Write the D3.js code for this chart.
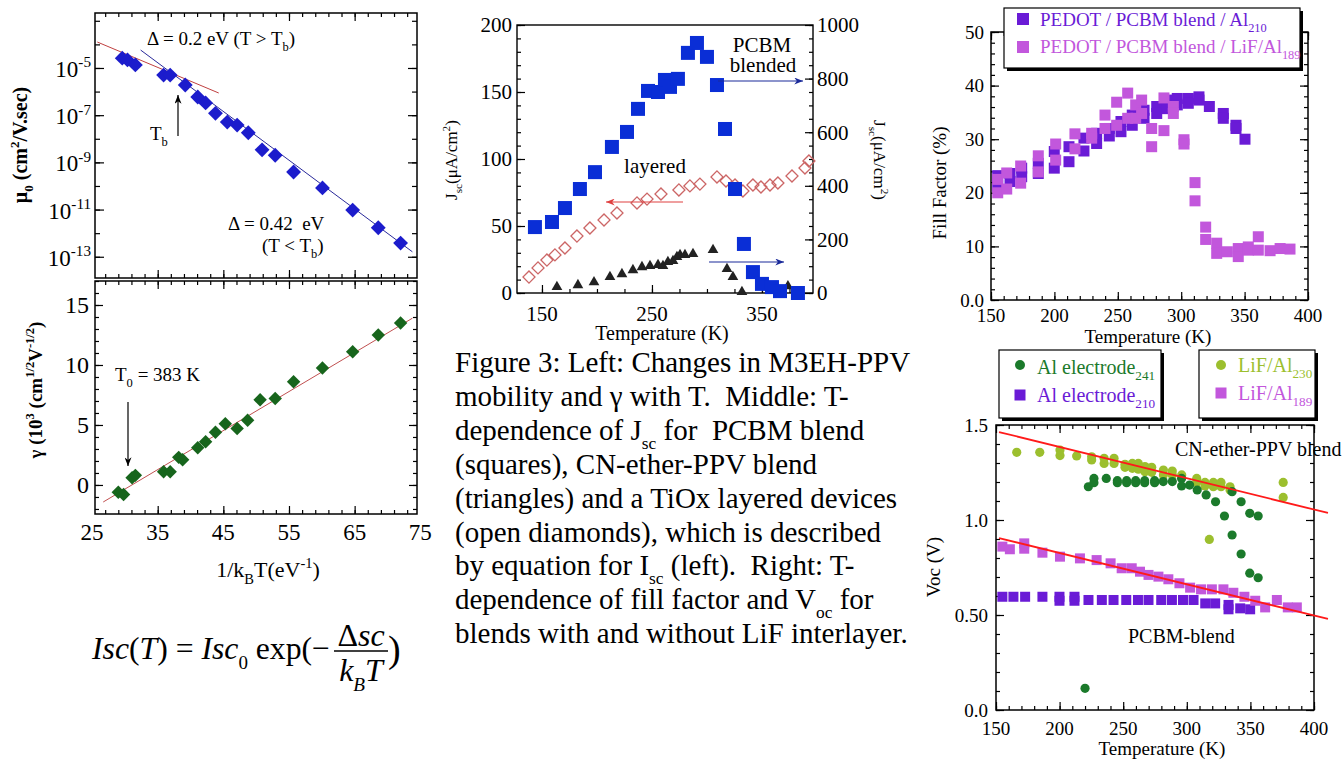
<!DOCTYPE html>
<html><head><meta charset="utf-8">
<script src="https://cdn.jsdelivr.net/npm/d3@7"></script>
<style>
body{margin:0;background:#fff}
svg{display:block}
text{font-family:"Liberation Serif","Times New Roman",serif;fill:#000}
</style>
</head><body>
<svg id="fig" width="1344" height="759"></svg>
<script>
// ---------------- data ----------------
// Left: zero-field mobility vs 1/kT (M3EH-PPV)
const muX = [29.6,30.4,31.6,35.9,36.9,39.2,41.1,42.3,43.8,45.6,47.1,48.8,50.9,52.9,55.7,60.1,64.7,68.6,72.0];
const mu  = [2.6e-5,2.2e-5,1.35e-5,5.0e-6,5.0e-6,1.9e-6,5.9e-7,3.3e-7,1.2e-7,5.1e-8,3.8e-8,1.8e-8,3.4e-9,2.0e-9,3.9e-10,8.3e-11,9.5e-12,1.7e-12,3.8e-13];
const muFitHighX = [25.8, 44.3], muFitHigh = [1.26e-4, 8.7e-7];   // Δ = 0.2 eV
const muFitLowX  = [32.4, 73.8], muFitLow  = [5.75e-5, 1.62e-13]; // Δ = 0.42 eV
// Left: field-dependence coefficient γ vs 1/kT
const gammaX = [29.0,29.8,31.1,31.6,35.9,36.9,38.2,38.8,41.1,42.3,43.8,45.3,47.1,48.7,50.6,52.9,55.7,60.1,64.7,68.6,72.0];
const gamma  = [-0.6,-0.8,0.6,0.8,1.1,1.1,2.3,2.1,3.1,3.6,4.4,5.1,4.7,5.4,7.1,7.2,8.6,9.75,11.1,12.5,13.5];
const gammaFitX = [26.7, 73.8], gammaFit = [-1.42, 13.9];
const invKTTicks = [25,35,45,55,65,75];

// Middle: Jsc vs temperature
const pcbmT = [143.6,159.1,170.9,184.5,198.2,213.6,227.3,237.3,246.4,255.5,261.8,266.4,273.6,282.7,290.9,300,309.1,316.4,325.5,333.6,341.8,350,359.1,366.4,382.7];
const pcbmJ = [246,265,317,388,451,545,601,687,754,750,795,769,799,896,933,881,776,612,388,183,78,34,22,7,0];
const layeredT = [138.2,146.4,154.5,161.8,170.9,181.8,193.6,206.4,218.2,236.4,245.5,258.2,274.5,284.5,293.6,309.1,317.3,325.5,332.7,341.8,349.1,357.3,364.5,377.3,389.1,392.7];
const layeredJ = [11.9,18.7,24.6,28.4,33.6,42.5,48.5,54.5,59.7,67.2,70.1,73.9,76.9,79.9,81.3,86.6,83.6,80.6,76.1,80.6,79.1,80.6,82.1,87.3,93.3,98.5];
const cnT = [163.6,182.7,197.3,211.8,222.7,232.7,240.9,248.2,255.5,260,264.5,269.1,272.7,275.5,280,287.3,305.5,318.2,323.6,331.8,373.6];
const cnJ = [19,26,37,56,67,82,93,97,101,97,112,116,131,138,138,142,157,86,56,0,22];

// Right top: fill factor
const ffAlT = [155.3,155.3,165,165,174.2,174.2,187.3,187.3,199.9,199.9,211.5,211.5,223.3,223.3,233.3,233.3,243.3,243.3,252.5,252.5,261.4,261.4,270.7,270.7,280.7,280.7,288.6,288.6,296.9,296.9,305.6,305.6,314,314,322.2,333.2,333.2,343.2,343.2,350.3];
const ffAl  = [23.2,21.2,23.6,22.1,24.6,23.0,25.5,23.6,27.7,24.6,28.6,25.8,30.2,27.8,31.1,29.2,32.0,30.6,33.3,31.4,34.5,32.6,35.4,33.9,36.1,34.8,37.3,35.7,37.6,36.4,37.6,36.7,37.9,37.3,36.1,34.8,33.9,32.6,32.0,30.0];
const ffLiFT = [155.3,155.3,162.4,162.4,173.4,173.4,187.3,187.3,201,201,216.2,216.2,229.4,229.4,239.9,239.9,249.1,249.1,257.8,257.8,264.1,264.1,268.8,268.8,276.7,276.7,286.4,286.4,293.8,293.8,302.2,302.2,310.9,310.9,319.3,319.3,328,328,336.4,345,345,352.9,352.9,360.8,360.8,370.1,378,385.8];
const ffLiF  = [22.5,20.0,23.7,20.7,25.0,21.8,26.9,23.9,29.1,26.1,31.0,28.2,31.1,30.2,34.5,32.0,36.9,32.6,38.6,33.9,36.4,33.9,37.3,34.8,32.0,28.6,37.7,31.6,36.1,34.8,29.9,29.1,21.9,18.5,13.6,11.3,10.6,8.7,9.0,9.6,8.1,9.9,9.3,11.8,9.3,9.2,9.6,9.5];

// Right bottom: open-circuit voltage
const vocLiF230T = [166.3,184.4,200.3,200.3,213.4,225.2,225.2,235,235,242.8,242.8,251.4,251.4,257.2,257.2,261.9,261.9,267.1,267.1,272.4,272.4,281.6,281.6,288.6,288.6,296,307.8,307.8,314.3,314.3,320.9,320.9,326.9,326.9,334,334,317.7,375.8,375.8];
const vocLiF230  = [1.356,1.356,1.368,1.339,1.337,1.333,1.316,1.325,1.298,1.325,1.298,1.293,1.277,1.298,1.272,1.298,1.267,1.281,1.254,1.277,1.251,1.263,1.237,1.258,1.237,1.237,1.219,1.198,1.198,1.179,1.198,1.175,1.198,1.175,1.175,1.158,0.898,1.198,1.119];
const vocAl241T = [222.6,227,227,236.7,245.4,245.4,252.7,252.7,259.8,259.8,266.9,266.9,274.7,274.7,281.5,288.6,295.9,295.9,302.2,308.2,315.2,322.6,329.6,335.6,335.6,342.7,342.7,349.5,349.5,356.1,356.1,220];
const vocAl241  = [1.175,1.219,1.196,1.219,1.207,1.196,1.207,1.196,1.207,1.196,1.207,1.196,1.207,1.196,1.202,1.202,1.219,1.179,1.184,1.158,1.132,1.096,1.021,1.149,0.921,1.096,0.821,1.035,0.72,1.021,0.696,0.114];
const vocAl210T = [155,163.7,172.9,186.5,199.9,199.9,211.7,211.7,222.7,233.2,242.4,252.4,261.6,269.9,279.9,288.3,297,305.3,314.5,322.3,332.8,332.8,342,349.8];
const vocAl210  = [0.596,0.596,0.596,0.596,0.596,0.575,0.596,0.575,0.579,0.579,0.579,0.579,0.579,0.579,0.579,0.579,0.579,0.579,0.561,0.561,0.553,0.53,0.535,0.53];
const vocLiF189T = [155,160.9,172.2,172.2,186.5,200.3,216,229.1,240.1,248.8,256.7,263.2,269.9,277.7,285.5,294.2,302.6,311.2,319.7,328.8,336.6,345.3,353.8,361.6,370.8,379.4,386.5];
const vocLiF189  = [0.86,0.846,0.849,0.877,0.828,0.807,0.798,0.789,0.772,0.746,0.746,0.728,0.711,0.702,0.688,0.667,0.644,0.635,0.635,0.635,0.617,0.596,0.575,0.54,0.579,0.54,0.54];
const vocFitT = [152.4, 411];
const vocFitCN = [1.463, 1.037];
const vocFitPCBM = [0.905, 0.479];

const captionLines = [
  [["Figure 3: Left: Changes in M3EH-PPV"]],
  [["mobility and γ with T.  Middle: T-"]],
  [["dependence of J"],["sc","sub"],[" for  PCBM blend"]],
  [["(squares), CN-ether-PPV blend"]],
  [["(triangles) and a TiOx layered devices"]],
  [["(open diamonds), which is described"]],
  [["by equation for I"],["sc","sub"],[" (left).  Right: T-"]],
  [["dependence of fill factor and V"],["oc","sub"],[" for"]],
  [["blends with and without LiF interlayer."]]
];

// ---------------- colours ----------------
const C = {
  blueDiamond: "#1c1ccc", greenDiamond: "#17651c",
  pcbm: "#0a2ed6", layered: "#cc6666", cn: "#222222",
  purple: "#6a1bd6", violet: "#c257dc",
  darkGreen: "#1b7a2b", lightGreen: "#9cbf2e", red: "#ff1a1a"
};

// ---------------- helpers ----------------
const svg = d3.select("#fig");
const defs = svg.append("defs");
function arrowMarker(id, color) {
  defs.append("marker").attr("id", id).attr("viewBox", "0 0 10 8")
    .attr("refX", 10).attr("refY", 4).attr("markerWidth", 9).attr("markerHeight", 7)
    .attr("markerUnits", "userSpaceOnUse").attr("orient", "auto")
    .append("path").attr("d", "M0,0 L10,4 L0,8 L3,4 z").attr("fill", color);
}
arrowMarker("arrBlue", "#1a2a9a");
arrowMarker("arrRed", "#e04040");
arrowMarker("arrBlack", "#000");

// text with sub/superscript runs; a run is [string, "sub"|"sup"|undefined, italic?]
function rich(sel, parts, fs, small) {
  let cur = 0;
  const k = small || 0.66;
  parts.forEach(([s, kind, ital]) => {
    const target = kind === "sub" ? fs * 0.3 : kind === "sup" ? -fs * 0.42 : 0;
    const t = sel.append("tspan").attr("dy", target - cur)
      .attr("font-size", kind ? fs * k : fs).text(s);
    if (ital) t.attr("font-style", "italic");
    cur = target;
  });
  return sel;
}

function frame(g, x, y, sw) {
  const [x0, x1] = x.range(), [y0, y1] = y.range();
  g.append("rect").attr("x", Math.min(x0, x1)).attr("y", Math.min(y0, y1))
    .attr("width", Math.abs(x1 - x0)).attr("height", Math.abs(y1 - y0))
    .attr("fill", "none").attr("stroke", "#000").attr("stroke-width", sw || 1.3);
}

// inward tick marks drawn with d3 axes (labels handled separately)
function tickRow(g, axisFn, scale, values, size, tx, ty) {
  const s = g.append("g").attr("transform", `translate(${tx},${ty})`)
    .call(axisFn(scale).tickValues(values).tickSize(-size).tickFormat(""));
  s.select(".domain").remove();
  s.selectAll("line").attr("stroke", "#000").attr("stroke-width", 1.2);
}
function inDomain(vals, sc) {
  const [a, b] = d3.extent(sc.domain());
  return vals.filter(v => v >= a - 1e-9 && v <= b + 1e-9);
}
function range(a, b, s) { return d3.range(a, b + s / 2, s); }

function diamond(g, cx, cy, side, fill, stroke) {
  g.append("rect").attr("x", -side / 2).attr("y", -side / 2)
    .attr("width", side).attr("height", side)
    .attr("transform", `translate(${cx},${cy}) rotate(45)`)
    .attr("fill", fill).attr("stroke", stroke || "none").attr("stroke-width", 1.3);
}
function square(g, cx, cy, side, fill) {
  g.append("rect").attr("x", cx - side / 2).attr("y", cy - side / 2)
    .attr("width", side).attr("height", side).attr("fill", fill);
}

// ================= LEFT TOP: mobility =================
const xA = d3.scaleLinear().domain([25.45, 74.5]).range([95, 417]);
const yA = d3.scaleLog().domain([Math.pow(10, -13.9), Math.pow(10, -2.67)]).range([278, 13]);
const gA = svg.append("g");
{
  const [xl, xr] = xA.range(), [yb, yt] = yA.range();
  const maj = inDomain(range(25, 75, 10), xA), min = inDomain(range(25, 75, 2), xA);
  tickRow(gA, d3.axisBottom, xA, min, 4, 0, yb);
  tickRow(gA, d3.axisBottom, xA, maj, 8, 0, yb);
  tickRow(gA, d3.axisTop, xA, min, 4, 0, yt);
  tickRow(gA, d3.axisTop, xA, maj, 8, 0, yt);
  const decades = d3.range(-13, -2).map(e => Math.pow(10, e));
  const odd = d3.range(-13, -4, 2).map(e => Math.pow(10, e));
  tickRow(gA, d3.axisLeft, yA, decades, 5, xl, 0);
  tickRow(gA, d3.axisLeft, yA, odd, 9, xl, 0);
  tickRow(gA, d3.axisRight, yA, decades, 5, xr, 0);
  tickRow(gA, d3.axisRight, yA, odd, 9, xr, 0);
  frame(gA, xA, yA, 1.5);
  d3.range(-13, -4, 2).forEach(e => {
    const t = gA.append("text").attr("x", 91).attr("y", yA(Math.pow(10, e)) + 9)
      .attr("text-anchor", "end").attr("font-size", 23);
    rich(t, [["10"], ["-" + Math.abs(e), "sup"]], 23);
  });
  // fits
  gA.append("path").attr("d", d3.line()(muFitHighX.map((v, i) => [xA(v), yA(muFitHigh[i])])))
    .attr("stroke", "#c04040").attr("stroke-width", 1).attr("fill", "none");
  gA.append("path").attr("d", d3.line()(muFitLowX.map((v, i) => [xA(v), yA(muFitLow[i])])))
    .attr("stroke", "#2a2a9a").attr("stroke-width", 1).attr("fill", "none");
  muX.forEach((v, i) => diamond(gA, xA(v), yA(mu[i]), 10.5, C.blueDiamond));
  // annotations
  rich(gA.append("text").attr("x", 147).attr("y", 45).attr("font-size", 19),
    [["Δ = 0.2 eV (T > T"], ["b", "sub"], [")"]], 19);
  rich(gA.append("text").attr("x", 150).attr("y", 140).attr("font-size", 19), [["T"], ["b", "sub"]], 19);
  gA.append("line").attr("x1", 178).attr("y1", 136).attr("x2", 178).attr("y2", 95)
    .attr("stroke", "#000").attr("stroke-width", 1.2).attr("marker-end", "url(#arrBlack)");
  gA.append("text").attr("x", 228).attr("y", 230).attr("font-size", 19).attr("xml:space", "preserve")
    .text("Δ = 0.42  eV");
  rich(gA.append("text").attr("x", 262).attr("y", 252).attr("font-size", 19),
    [["(T < T"], ["b", "sub"], [")"]], 19);
  // y title
  rich(gA.append("text").attr("transform", "translate(27,145) rotate(-90)")
    .attr("text-anchor", "middle").attr("font-weight", "bold").attr("font-size", 20),
    [["μ"], ["0", "sub"], [" (cm"], ["2", "sup"], ["/V.sec)"]], 20);
}

// ================= LEFT BOTTOM: gamma =================
const yB = d3.scaleLinear().domain([-2.42, 17]).range([514, 281]);
const gB = svg.append("g");
{
  const [xl, xr] = xA.range(), [yb, yt] = yB.range();
  const maj = inDomain(range(25, 75, 10), xA), min = inDomain(range(25, 75, 2), xA);
  tickRow(gB, d3.axisBottom, xA, min, 4, 0, yb);
  tickRow(gB, d3.axisBottom, xA, maj, 8, 0, yb);
  tickRow(gB, d3.axisTop, xA, min, 4, 0, yt);
  tickRow(gB, d3.axisTop, xA, maj, 8, 0, yt);
  const ymin = inDomain(range(-2, 17, 1), yB), ymaj = range(0, 15, 5);
  tickRow(gB, d3.axisLeft, yB, ymin, 4, xl, 0);
  tickRow(gB, d3.axisLeft, yB, ymaj, 8, xl, 0);
  tickRow(gB, d3.axisRight, yB, ymin, 4, xr, 0);
  tickRow(gB, d3.axisRight, yB, ymaj, 8, xr, 0);
  frame(gB, xA, yB, 1.5);
  ymaj.forEach(v => gB.append("text").attr("x", 89).attr("y", yB(v)).attr("dy", "0.35em")
    .attr("text-anchor", "end").attr("font-size", 24).text(v));
  invKTTicks.forEach(v => gB.append("text").attr("x", xA(v)).attr("y", 540)
    .attr("text-anchor", "middle").attr("font-size", 23).text(v));
  gB.append("path").attr("d", d3.line()(gammaFitX.map((v, i) => [xA(v), yB(gammaFit[i])])))
    .attr("stroke", "#c05050").attr("stroke-width", 1).attr("fill", "none");
  gammaX.forEach((v, i) => diamond(gB, xA(v), yB(gamma[i]), 9.5, C.greenDiamond));
  rich(gB.append("text").attr("x", 115).attr("y", 381).attr("font-size", 19),
    [["T"], ["0", "sub"], [" = 383 K"]], 19);
  gB.append("line").attr("x1", 128).attr("y1", 402).attr("x2", 128).attr("y2", 466)
    .attr("stroke", "#000").attr("stroke-width", 1.2).attr("marker-end", "url(#arrBlack)");
  rich(gB.append("text").attr("transform", "translate(42,390) rotate(-90)")
    .attr("text-anchor", "middle").attr("font-weight", "bold").attr("font-size", 19),
    [["γ (10"], ["3", "sup"], [" (cm"], ["1/2", "sup"], ["V"], ["-1/2", "sup"], [")"]], 19);
  rich(gB.append("text").attr("x", 268).attr("y", 577).attr("text-anchor", "middle").attr("font-size", 22),
    [["1/k"], ["B", "sub"], ["T(eV"], ["-1", "sup"], [")"]], 22);
}

// ================= equation Isc(T) =================
{
  const gE = svg.append("g");
  const lhsParts = [["Isc", null, true], ["("], ["T", null, true], [")"], [" = "],
                    ["Isc", null, true], ["0", "sub"], [" exp(−"]];
  // size the left-hand run so that it spans the wanted width
  let fs = 32;
  let lhs = rich(gE.append("text").attr("x", 92).attr("y", 659).attr("font-size", fs), lhsParts, fs, 0.6);
  const w = lhs.node().getComputedTextLength();
  fs = fs * 238 / w;
  lhs.remove();
  lhs = rich(gE.append("text").attr("x", 92).attr("y", 659).attr("font-size", fs), lhsParts, fs, 0.6);
  const cx = 361;
  rich(gE.append("text").attr("x", cx).attr("y", 646).attr("text-anchor", "middle").attr("font-size", 32),
    [["Δ"], ["sc", null, true]], 32);
  gE.append("line").attr("x1", 334).attr("x2", 388).attr("y1", 651).attr("y2", 651)
    .attr("stroke", "#000").attr("stroke-width", 1.5);
  rich(gE.append("text").attr("x", cx).attr("y", 681).attr("text-anchor", "middle").attr("font-size", 32),
    [["k", null, true], ["B", "sub", true], ["T", null, true]], 32, 0.6);
  gE.append("text").attr("x", 388).attr("y", 662).attr("font-size", 38).text(")");
}

// ================= MIDDLE: Jsc =================
const xM = d3.scaleLinear().domain([127.3, 396.4]).range([517, 813]);
const yML = d3.scaleLinear().domain([0, 200]).range([293, 25]);
const yMR = d3.scaleLinear().domain([0, 1000]).range([293, 25]);
const gM = svg.append("g");
{
  const [xl, xr] = xM.range();
  tickRow(gM, d3.axisLeft, yML, range(0, 200, 10), 4, xl, 0);
  tickRow(gM, d3.axisLeft, yML, range(0, 200, 50), 8, xl, 0);
  tickRow(gM, d3.axisRight, yMR, range(0, 1000, 50), 4, xr, 0);
  tickRow(gM, d3.axisRight, yMR, range(0, 1000, 200), 8, xr, 0);
  tickRow(gM, d3.axisBottom, xM, inDomain(range(125, 400, 25), xM), 4, 0, 293);
  tickRow(gM, d3.axisBottom, xM, range(150, 350, 100), 8, 0, 293);
  frame(gM, xM, yML, 1.4);
  range(0, 200, 50).forEach(v => gM.append("text").attr("x", 512).attr("y", yML(v)).attr("dy", "0.35em")
    .attr("text-anchor", "end").attr("font-size", 21).text(v));
  range(0, 1000, 200).forEach(v => gM.append("text").attr("x", 817).attr("y", yMR(v)).attr("dy", "0.35em")
    .attr("font-size", 21).text(v));
  range(150, 350, 100).forEach(v => gM.append("text").attr("x", xM(v)).attr("y", 321)
    .attr("text-anchor", "middle").attr("font-size", 21).text(v));
  gM.append("text").attr("x", 662).attr("y", 340).attr("text-anchor", "middle").attr("font-size", 20)
    .text("Temperature (K)");
  rich(gM.append("text").attr("transform", "translate(457,160) rotate(-90)").attr("text-anchor", "middle")
    .attr("font-size", 17), [["J"], ["sc", "sub"], ["(μA/cm"], ["2", "sup"], [")"]], 17);
  rich(gM.append("text").attr("transform", "translate(874,160) rotate(90)").attr("text-anchor", "middle")
    .attr("font-size", 17), [["J"], ["sc", "sub"], ["(μA/cm"], ["2", "sup"], [")"]], 17);

  layeredT.forEach((t, i) => diamond(gM, xM(t), yML(layeredJ[i]), 8.5, "none", C.layered));
  cnT.forEach((t, i) => gM.append("path")
    .attr("d", d3.symbol(d3.symbolTriangle, 50)())
    .attr("transform", `translate(${xM(t)},${yMR(cnJ[i]) - 1})`).attr("fill", C.cn));
  pcbmT.forEach((t, i) => square(gM, xM(t), yMR(pcbmJ[i]), 14, C.pcbm));

  gM.append("text").attr("x", 762).attr("y", 52).attr("text-anchor", "middle").attr("font-size", 21).text("PCBM");
  gM.append("text").attr("x", 763).attr("y", 72).attr("text-anchor", "middle").attr("font-size", 21).text("blended");
  gM.append("text").attr("x", 655).attr("y", 173).attr("text-anchor", "middle").attr("font-size", 21).text("layered");
  gM.append("line").attr("x1", 718).attr("y1", 81).attr("x2", 803).attr("y2", 81)
    .attr("stroke", "#1a2a9a").attr("stroke-width", 1.2).attr("marker-end", "url(#arrBlue)");
  gM.append("line").attr("x1", 683).attr("y1", 202).attr("x2", 606).attr("y2", 202)
    .attr("stroke", "#e04040").attr("stroke-width", 1.2).attr("marker-end", "url(#arrRed)");
  gM.append("line").attr("x1", 709).attr("y1", 262).attr("x2", 784).attr("y2", 262)
    .attr("stroke", "#1a2a9a").attr("stroke-width", 1.2).attr("marker-end", "url(#arrBlue)");
}

// ================= caption =================
{
  const gC = svg.append("g");
  captionLines.forEach((parts, i) => {
    const t = gC.append("text").attr("x", 455).attr("y", 372 + i * 33.9)
      .attr("font-size", 29).attr("xml:space", "preserve").style("white-space", "pre");
    rich(t, parts, 29, 0.6);
  });
}

// ================= RIGHT TOP: fill factor =================
const xF = d3.scaleLinear().domain([150, 400]).range([991, 1308]);
const yF = d3.scaleLinear().domain([0, 50]).range([300, 32]);
const gF = svg.append("g");
{
  const [xl, xr] = xF.range(), [yb, yt] = yF.range();
  tickRow(gF, d3.axisBottom, xF, range(150, 400, 10), 4, 0, yb);
  tickRow(gF, d3.axisBottom, xF, range(150, 400, 50), 8, 0, yb);
  tickRow(gF, d3.axisTop, xF, range(150, 400, 10), 4, 0, yt);
  tickRow(gF, d3.axisTop, xF, range(150, 400, 50), 8, 0, yt);
  tickRow(gF, d3.axisLeft, yF, range(0, 50, 2), 4, xl, 0);
  tickRow(gF, d3.axisLeft, yF, range(0, 50, 10), 8, xl, 0);
  tickRow(gF, d3.axisRight, yF, range(0, 50, 2), 4, xr, 0);
  tickRow(gF, d3.axisRight, yF, range(0, 50, 10), 8, xr, 0);
  frame(gF, xF, yF, 1.5);
  range(0, 50, 10).forEach(v => gF.append("text").attr("x", 984).attr("y", yF(v)).attr("dy", "0.35em")
    .attr("text-anchor", "end").attr("font-size", 19).text(v === 0 ? "0.0" : v));
  range(150, 400, 50).forEach(v => gF.append("text").attr("x", xF(v)).attr("y", 322)
    .attr("text-anchor", "middle").attr("font-size", 19).text(v));
  gF.append("text").attr("x", 1148).attr("y", 343).attr("text-anchor", "middle").attr("font-size", 19)
    .text("Temperature (K)");
  gF.append("text").attr("transform", "translate(946,183) rotate(-90)").attr("text-anchor", "middle")
    .attr("font-size", 19).text("Fill Factor (%)");
  ffAlT.forEach((t, i) => square(gF, xF(t), yF(ffAl[i]), 11, C.purple));
  ffLiFT.forEach((t, i) => square(gF, xF(t), yF(ffLiF[i]), 11, C.violet));
  // legend
  gF.append("rect").attr("x", 1007).attr("y", 11).attr("width", 296).attr("height", 60).attr("fill", "#000");
  gF.append("rect").attr("x", 1004).attr("y", 8).attr("width", 296).attr("height", 60)
    .attr("fill", "#fff").attr("stroke", "#000").attr("stroke-width", 1.2);
  square(gF, 1023, 19, 12, C.purple);
  square(gF, 1023, 47, 12, C.violet);
  rich(gF.append("text").attr("x", 1040).attr("y", 26).attr("font-size", 19).style("fill", C.purple),
    [["PEDOT / PCBM blend / Al"], ["210", "sub"]], 19, 0.65);
  rich(gF.append("text").attr("x", 1040).attr("y", 53).attr("font-size", 19).style("fill", C.violet),
    [["PEDOT / PCBM blend / LiF/Al"], ["189", "sub"]], 19, 0.65);
}

// ================= RIGHT BOTTOM: Voc =================
const xV = d3.scaleLinear().domain([150, 400]).range([996, 1314]);
const yV = d3.scaleLinear().domain([0, 1.5]).range([710, 425]);
const gV = svg.append("g");
{
  const [xl, xr] = xV.range(), [yb, yt] = yV.range();
  tickRow(gV, d3.axisBottom, xV, range(150, 400, 10), 4, 0, yb);
  tickRow(gV, d3.axisBottom, xV, range(150, 400, 50), 8, 0, yb);
  tickRow(gV, d3.axisTop, xV, range(150, 400, 10), 4, 0, yt);
  tickRow(gV, d3.axisTop, xV, range(150, 400, 50), 8, 0, yt);
  tickRow(gV, d3.axisLeft, yV, range(0, 1.5, 0.1), 4, xl, 0);
  tickRow(gV, d3.axisLeft, yV, range(0, 1.5, 0.5), 8, xl, 0);
  tickRow(gV, d3.axisRight, yV, range(0, 1.5, 0.1), 4, xr, 0);
  tickRow(gV, d3.axisRight, yV, range(0, 1.5, 0.5), 8, xr, 0);
  frame(gV, xV, yV, 1.5);
  const yLab = ["0.0", "0.50", "1.0", "1.5"];
  range(0, 1.5, 0.5).forEach((v, i) => gV.append("text").attr("x", 988).attr("y", yV(v)).attr("dy", "0.35em")
    .attr("text-anchor", "end").attr("font-size", 19).text(yLab[i]));
  range(150, 400, 50).forEach(v => gV.append("text").attr("x", xV(v)).attr("y", 735)
    .attr("text-anchor", "middle").attr("font-size", 19).text(v));
  gV.append("text").attr("x", 1162).attr("y", 755).attr("text-anchor", "middle").attr("font-size", 19)
    .text("Temperature (K)");
  gV.append("text").attr("transform", "translate(940,567) rotate(-90)").attr("text-anchor", "middle")
    .attr("font-size", 19).text("Voc (V)");

  vocAl210T.forEach((t, i) => square(gV, xV(t), yV(vocAl210[i]), 10, C.purple));
  vocLiF189T.forEach((t, i) => square(gV, xV(t), yV(vocLiF189[i]), 10, C.violet));
  vocLiF230T.forEach((t, i) => gV.append("circle").attr("cx", xV(t)).attr("cy", yV(vocLiF230[i]))
    .attr("r", 4.6).attr("fill", C.lightGreen));
  vocAl241T.forEach((t, i) => gV.append("circle").attr("cx", xV(t)).attr("cy", yV(vocAl241[i]))
    .attr("r", 4.6).attr("fill", C.darkGreen));
  [vocFitCN, vocFitPCBM].forEach(f => gV.append("path")
    .attr("d", d3.line()(vocFitT.map((t, i) => [xV(t), yV(f[i])])))
    .attr("stroke", C.red).attr("stroke-width", 1.8).attr("fill", "none"));
  gV.append("text").attr("x", 1175).attr("y", 456).attr("font-size", 20).text("CN-ether-PPV blend");
  gV.append("text").attr("x", 1128).attr("y", 643).attr("font-size", 20).text("PCBM-blend");

  // legends
  const boxes = [[999, 350, 162, 68], [1199, 350, 116, 68]];
  boxes.forEach(([x, y, w, h]) => {
    gV.append("rect").attr("x", x + 3).attr("y", y + 3).attr("width", w).attr("height", h).attr("fill", "#000");
    gV.append("rect").attr("x", x).attr("y", y).attr("width", w).attr("height", h)
      .attr("fill", "#fff").attr("stroke", "#000").attr("stroke-width", 1.2);
  });
  gV.append("circle").attr("cx", 1020).attr("cy", 365).attr("r", 5).attr("fill", C.darkGreen);
  square(gV, 1020, 395, 11, C.purple);
  gV.append("circle").attr("cx", 1221).attr("cy", 365).attr("r", 5).attr("fill", C.lightGreen);
  square(gV, 1221, 393, 11, C.violet);
  rich(gV.append("text").attr("x", 1037).attr("y", 374).attr("font-size", 20).style("fill", C.darkGreen),
    [["Al electrode"], ["241", "sub"]], 20);
  rich(gV.append("text").attr("x", 1037).attr("y", 402).attr("font-size", 20).style("fill", C.purple),
    [["Al electrode"], ["210", "sub"]], 20);
  rich(gV.append("text").attr("x", 1238).attr("y", 372).attr("font-size", 20).style("fill", C.lightGreen),
    [["LiF/Al"], ["230", "sub"]], 20);
  rich(gV.append("text").attr("x", 1238).attr("y", 400).attr("font-size", 20).style("fill", C.violet),
    [["LiF/Al"], ["189", "sub"]], 20);
}
</script>
</body></html>
